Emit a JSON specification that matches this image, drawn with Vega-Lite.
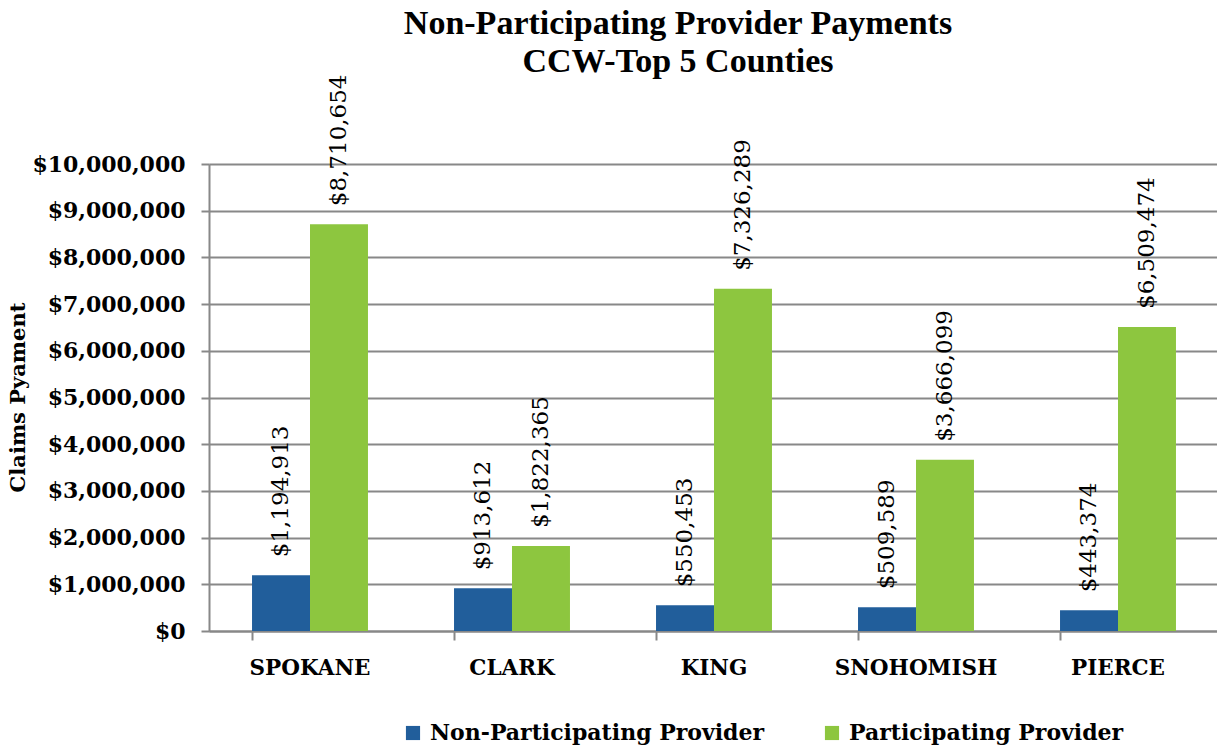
{
  "$schema": "https://vega.github.io/schema/vega-lite/v6.json",
  "autosize": {"type": "none"},
  "padding": {"left": 209, "top": 164, "right": 0, "bottom": 117},
  "width": 1010,
  "height": 467,
  "background": "white",
  "title": {
    "text": ["Non-Participating Provider Payments", "CCW-Top 5 Counties"],
    "font": "Liberation Serif",
    "fontSize": 34,
    "fontWeight": "bold",
    "color": "#000000",
    "anchor": "middle",
    "frame": "group",
    "dx": -36,
    "lineHeight": 38,
    "offset": -4
  },
  "data": {
    "values": [
      {"county": "SPOKANE", "type": "Non-Participating Provider", "amount": 1194913},
      {"county": "SPOKANE", "type": "Participating Provider", "amount": 8710654},
      {"county": "CLARK", "type": "Non-Participating Provider", "amount": 913612},
      {"county": "CLARK", "type": "Participating Provider", "amount": 1822365},
      {"county": "KING", "type": "Non-Participating Provider", "amount": 550453},
      {"county": "KING", "type": "Participating Provider", "amount": 7326289},
      {"county": "SNOHOMISH", "type": "Non-Participating Provider", "amount": 509589},
      {"county": "SNOHOMISH", "type": "Participating Provider", "amount": 3666099},
      {"county": "PIERCE", "type": "Non-Participating Provider", "amount": 443374},
      {"county": "PIERCE", "type": "Participating Provider", "amount": 6509474}
    ]
  },
  "encoding": {
    "x": {
      "field": "county",
      "type": "nominal",
      "sort": ["SPOKANE", "CLARK", "KING", "SNOHOMISH", "PIERCE"],
      "scale": {"paddingInner": 0.426, "paddingOuter": 0.213},
      "axis": {
        "title": null,
        "bandPosition": 0,
        "labelAngle": 0,
        "labelFont": "DejaVu Serif",
        "labelFontWeight": "bold",
        "labelFontSize": 21.5,
        "labelColor": "#000000",
        "labelPadding": 17,
        "tickSize": 9,
        "tickColor": "#888888",
        "tickWidth": 2,
        "domainColor": "#888888",
        "domainWidth": 2
      }
    },
    "xOffset": {
      "field": "type",
      "type": "nominal",
      "sort": ["Non-Participating Provider", "Participating Provider"],
      "scale": {"paddingInner": 0, "paddingOuter": 0}
    },
    "y": {
      "field": "amount",
      "type": "quantitative",
      "scale": {"domain": [0, 10000000], "nice": false},
      "axis": {
        "title": "Claims Pyament",
        "titleFont": "DejaVu Serif",
        "titleFontSize": 21,
        "titleFontWeight": "bold",
        "titleColor": "#000000",
        "titleAngle": 270,
        "titleX": -191,
        "titleY": 233,
        "titleAlign": "center",
        "titleBaseline": "middle",
        "values": [0, 1000000, 2000000, 3000000, 4000000, 5000000, 6000000, 7000000, 8000000, 9000000, 10000000],
        "format": "$,.0f",
        "labelFont": "DejaVu Serif",
        "labelFontWeight": "bold",
        "labelFontSize": 22,
        "labelColor": "#000000",
        "labelPadding": 16,
        "tickSize": 8,
        "tickColor": "#888888",
        "tickWidth": 2,
        "grid": true,
        "gridColor": "#888888",
        "gridWidth": 2,
        "domainColor": "#888888",
        "domainWidth": 2
      }
    }
  },
  "layer": [
    {
      "mark": {"type": "bar"},
      "encoding": {
        "color": {
          "field": "type",
          "type": "nominal",
          "scale": {
            "domain": ["Non-Participating Provider", "Participating Provider"],
            "range": ["#215E9B", "#8DC63F"]
          },
          "legend": {
            "title": null,
            "orient": "none",
            "direction": "horizontal",
            "legendX": 193,
            "legendY": 558,
            "symbolType": "square",
            "symbolSize": 200,
            "symbolStrokeWidth": 0,
            "symbolOpacity": 1,
            "labelFont": "DejaVu Serif",
            "labelFontWeight": "bold",
            "labelFontSize": 22,
            "labelColor": "#000000",
            "labelOffset": 6,
            "labelLimit": 400,
            "columnPadding": 56
          }
        }
      }
    },
    {
      "mark": {
        "type": "text",
        "angle": 270,
        "align": "left",
        "baseline": "middle",
        "dx": 18,
        "font": "DejaVu Serif",
        "fontSize": 23,
        "color": "#000000"
      },
      "encoding": {
        "text": {"field": "amount", "type": "quantitative", "format": "$,.0f"}
      }
    }
  ]
}
